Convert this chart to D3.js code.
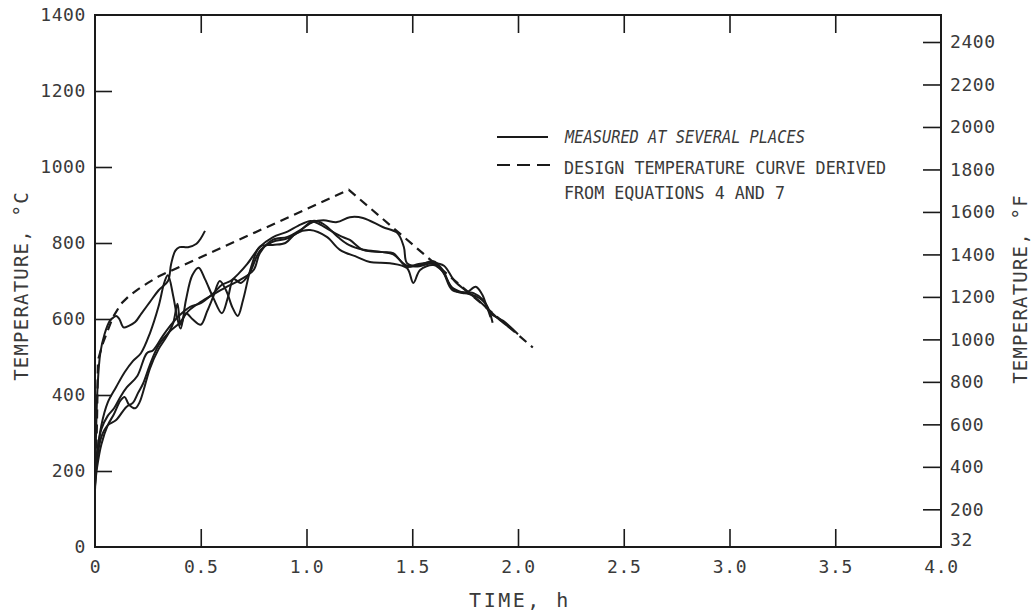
<!DOCTYPE html>
<html>
<head>
<meta charset="utf-8">
<script src="https://cdn.jsdelivr.net/npm/d3@7"></script>
<style>
  html, body { margin: 0; padding: 0; background: #fff; }
  svg { display: block; }
  text { font-family: "DejaVu Sans Mono", "Liberation Mono", monospace; fill: #3a3a3a; }
</style>
</head>
<body>
<svg id="chart" width="1034" height="615"></svg>
<script>
// ---------------- data ----------------
const timeTicks = [0, 0.5, 1.0, 1.5, 2.0, 2.5, 3.0, 3.5, 4.0];
const timeTickLabels = ["0", "0.5", "1.0", "1.5", "2.0", "2.5", "3.0", "3.5", "4.0"];
const celsiusTicks = [0, 200, 400, 600, 800, 1000, 1200, 1400];
const celsiusTickLabels = ["0", "200", "400", "600", "800", "1000", "1200", "1400"];
const fahrenheitTicks = [32, 200, 400, 600, 800, 1000, 1200, 1400, 1600, 1800, 2000, 2200, 2400];
const fahrenheitTickLabels = ["32", "200", "400", "600", "800", "1000", "1200", "1400", "1600",
  "1800", "2000", "2200", "2400"];

const xTitle = "TIME, h";
const yLeftTitle = "TEMPERATURE, °C";
const yRightTitle = "TEMPERATURE, °F";
const legendMeasured = "MEASURED AT SEVERAL PLACES";
const legendDesign = ["DESIGN TEMPERATURE CURVE DERIVED", "FROM EQUATIONS 4 AND 7"];

// design temperature curve [time h, °C]
const designCurve = [[0.005,220],[0.01,350],[0.014,492],[0.038,537],[0.061,571],[0.085,605],
  [0.123,640],[0.16,660],[0.203,678],[0.25,695],[0.3,712],[1.2,940],[2.07,525]];

// measured curves [time h, °C]
const measured1 = [[0,170],[0.005,300],[0.012,420],[0.025,510],[0.045,560],[0.07,595],[0.085,603],
  [0.1,608],[0.115,600],[0.135,578],[0.16,582],[0.19,592],[0.22,615],[0.26,645],[0.3,675],
  [0.345,700],[0.36,745],[0.38,780],[0.4,789],[0.44,789],[0.48,798],[0.5,812],[0.52,832]];
const measured2 = [[0,150],[0.01,240],[0.03,320],[0.06,380],[0.1,421],[0.14,460],[0.18,490],
  [0.217,510],[0.26,563],[0.3,632],[0.33,700],[0.345,715],[0.37,660],[0.39,600],[0.405,575],
  [0.43,650],[0.46,715],[0.49,735],[0.52,705],[0.56,655],[0.6,615],[0.63,660],[0.655,705],
  [0.69,695],[0.73,720],[0.78,780],[0.84,803],[0.91,812],[0.97,832],[1.03,858],[1.08,850],
  [1.15,815],[1.2,795],[1.27,782],[1.36,776],[1.41,770],[1.47,742],[1.52,738],[1.6,746],
  [1.64,728],[1.69,682],[1.75,668],[1.8,660],[1.85,638],[1.88,590]];
const measured3 = [[0,165],[0.01,230],[0.03,290],[0.06,320],[0.1,334],[0.147,368],[0.18,380],
  [0.203,405],[0.228,431],[0.26,480],[0.3,530],[0.35,565],[0.4,590],[0.44,620],[0.5,645],
  [0.56,665],[0.62,684],[0.686,703],[0.75,729],[0.78,774],[0.84,808],[0.91,816],[0.97,834],
  [1.03,855],[1.08,860],[1.144,855],[1.205,868],[1.267,866],[1.36,842],[1.43,826],[1.46,790],
  [1.475,747],[1.52,740],[1.6,752],[1.645,728],[1.69,680],[1.75,668],[1.8,685],[1.83,665],
  [1.87,615],[1.93,595],[2.0,560]];
const measured4 = [[0,160],[0.01,210],[0.03,270],[0.06,320],[0.09,350],[0.12,385],[0.14,395],
  [0.16,375],[0.19,365],[0.21,380],[0.23,413],[0.26,470],[0.3,520],[0.34,555],[0.37,590],
  [0.39,640],[0.405,585],[0.43,615],[0.46,600],[0.5,585],[0.53,620],[0.56,660],[0.59,700],
  [0.62,675],[0.65,630],[0.675,608],[0.7,650],[0.74,740],[0.78,790],[0.84,795],[0.9,800],
  [0.95,825],[1.017,834],[1.096,816],[1.158,782],[1.24,763],[1.3,750],[1.395,747],[1.475,734],
  [1.505,695],[1.537,729],[1.6,742],[1.645,724],[1.69,676],[1.79,668],[1.835,650],[1.87,605]];
const measured5 = [[0,185],[0.01,250],[0.03,310],[0.06,345],[0.09,365],[0.12,395],[0.15,420],
  [0.2,450],[0.245,510],[0.275,518],[0.32,555],[0.36,585],[0.4,610],[0.45,632],[0.5,642],
  [0.56,668],[0.6,690],[0.64,700],[0.68,720],[0.72,745],[0.78,790],[0.84,815],[0.91,830],
  [0.96,845],[1.02,858],[1.06,850],[1.11,834],[1.17,816],[1.205,808],[1.267,782],[1.36,776],
  [1.41,773],[1.475,737],[1.53,745],[1.6,748],[1.65,740],[1.7,700],[1.76,672],[1.8,655],
  [1.86,625],[1.915,597],[1.977,571]];
const measuredCurves = [measured1, measured2, measured3, measured4, measured5];

// ---------------- layout ----------------
const svg = d3.select("#chart");
const plotLeft = 95, plotRight = 941, plotTop = 15, plotBottom = 547;

const x = d3.scaleLinear().domain([0, 4]).range([plotLeft, plotRight]);
const y = d3.scaleLinear().domain([0, 1400]).range([plotBottom, plotTop]);
const yF = d3.scaleLinear().domain([32, 2400]).range([545, 42]);

const ink = "#1a1a1a";

// frame
svg.append("rect")
  .attr("x", plotLeft).attr("y", plotTop)
  .attr("width", plotRight - plotLeft).attr("height", plotBottom - plotTop)
  .attr("fill", "none").attr("stroke", ink).attr("stroke-width", 2);

// bottom axis
const xAxis = svg.append("g")
  .attr("transform", `translate(0,${plotBottom})`)
  .call(d3.axisBottom(x).tickValues(timeTicks)
    .tickFormat((d, i) => timeTickLabels[i]).tickSize(-18).tickPadding(13));
// top ticks
const xTop = svg.append("g")
  .attr("transform", `translate(0,${plotTop})`)
  .call(d3.axisTop(x).tickValues(timeTicks).tickFormat("").tickSize(-18));

// left axis
const yAxis = svg.append("g")
  .attr("transform", `translate(${plotLeft},0)`)
  .call(d3.axisLeft(y).tickValues(celsiusTicks)
    .tickFormat((d, i) => celsiusTickLabels[i]).tickSize(-17).tickPadding(9));

// right axis (°F)
const yRAxis = svg.append("g")
  .attr("transform", `translate(${plotRight},0)`)
  .call(d3.axisRight(yF).tickValues(fahrenheitTicks)
    .tickFormat((d, i) => fahrenheitTickLabels[i]).tickSize(-18).tickPadding(9));

[xAxis, xTop, yAxis, yRAxis].forEach(g => {
  g.select(".domain").remove();
  g.selectAll(".tick line").attr("stroke", ink).attr("stroke-width", 1.6);
  g.selectAll(".tick text").attr("font-size", 18).attr("fill", "#3a3a3a")
    .style("letter-spacing", "0.6px");
});
// the 32 °F label sits at the corner without a tick mark
yRAxis.selectAll(".tick").filter(d => d === 32)
  .call(t => t.select("line").remove())
  .select("text").attr("dy", "0.05em");
// hide corner tick marks that coincide with the frame
xAxis.selectAll(".tick").filter(d => d === 0 || d === 4).select("line").remove();
xTop.selectAll(".tick").filter(d => d === 0 || d === 4).select("line").remove();
yAxis.selectAll(".tick").filter(d => d === 0 || d === 1400).select("line").remove();

// axis titles
svg.append("text")
  .attr("x", (plotLeft + plotRight) / 2 + 2).attr("y", 607)
  .attr("text-anchor", "middle").attr("font-size", 20)
  .style("letter-spacing", "2.5px")
  .text(xTitle);
svg.append("text")
  .attr("transform", `translate(28,${(plotTop + plotBottom) / 2 + 5}) rotate(-90)`)
  .attr("text-anchor", "middle").attr("font-size", 19)
  .style("letter-spacing", "1.2px")
  .text(yLeftTitle);
svg.append("text")
  .attr("transform", `translate(1027,${(plotTop + plotBottom) / 2 + 8}) rotate(-90)`)
  .attr("text-anchor", "middle").attr("font-size", 19)
  .style("letter-spacing", "1.2px")
  .text(yRightTitle);

// lines
const line = d3.line().x(d => x(d[0])).y(d => y(d[1]));
const smooth = d3.line().x(d => x(d[0])).y(d => y(d[1])).curve(d3.curveCatmullRom.alpha(0.5));

svg.append("g").selectAll("path")
  .data(measuredCurves)
  .join("path")
  .attr("d", smooth)
  .attr("fill", "none")
  .attr("stroke", ink)
  .attr("stroke-width", 2)
  .attr("stroke-linejoin", "round");

svg.append("path")
  .datum(designCurve)
  .attr("d", line)
  .attr("fill", "none")
  .attr("stroke", ink)
  .attr("stroke-width", 2.2)
  .attr("stroke-dasharray", "9,6");

// legend
const lg = svg.append("g");
lg.append("line")
  .attr("x1", 497).attr("x2", 548).attr("y1", 137).attr("y2", 137)
  .attr("stroke", ink).attr("stroke-width", 2);
lg.append("text")
  .attr("x", 565).attr("y", 143)
  .attr("font-size", 17).attr("font-style", "italic")
  .attr("textLength", 240).attr("lengthAdjust", "spacingAndGlyphs")
  .text(legendMeasured);
lg.append("line")
  .attr("x1", 497).attr("x2", 550).attr("y1", 165).attr("y2", 165)
  .attr("stroke", ink).attr("stroke-width", 2)
  .attr("stroke-dasharray", "13,7");
lg.append("text")
  .attr("x", 564).attr("y", 174)
  .attr("font-size", 18)
  .attr("textLength", 322).attr("lengthAdjust", "spacingAndGlyphs")
  .text(legendDesign[0]);
lg.append("text")
  .attr("x", 564).attr("y", 199)
  .attr("font-size", 18)
  .attr("textLength", 221).attr("lengthAdjust", "spacingAndGlyphs")
  .text(legendDesign[1]);
</script>
</body>
</html>
